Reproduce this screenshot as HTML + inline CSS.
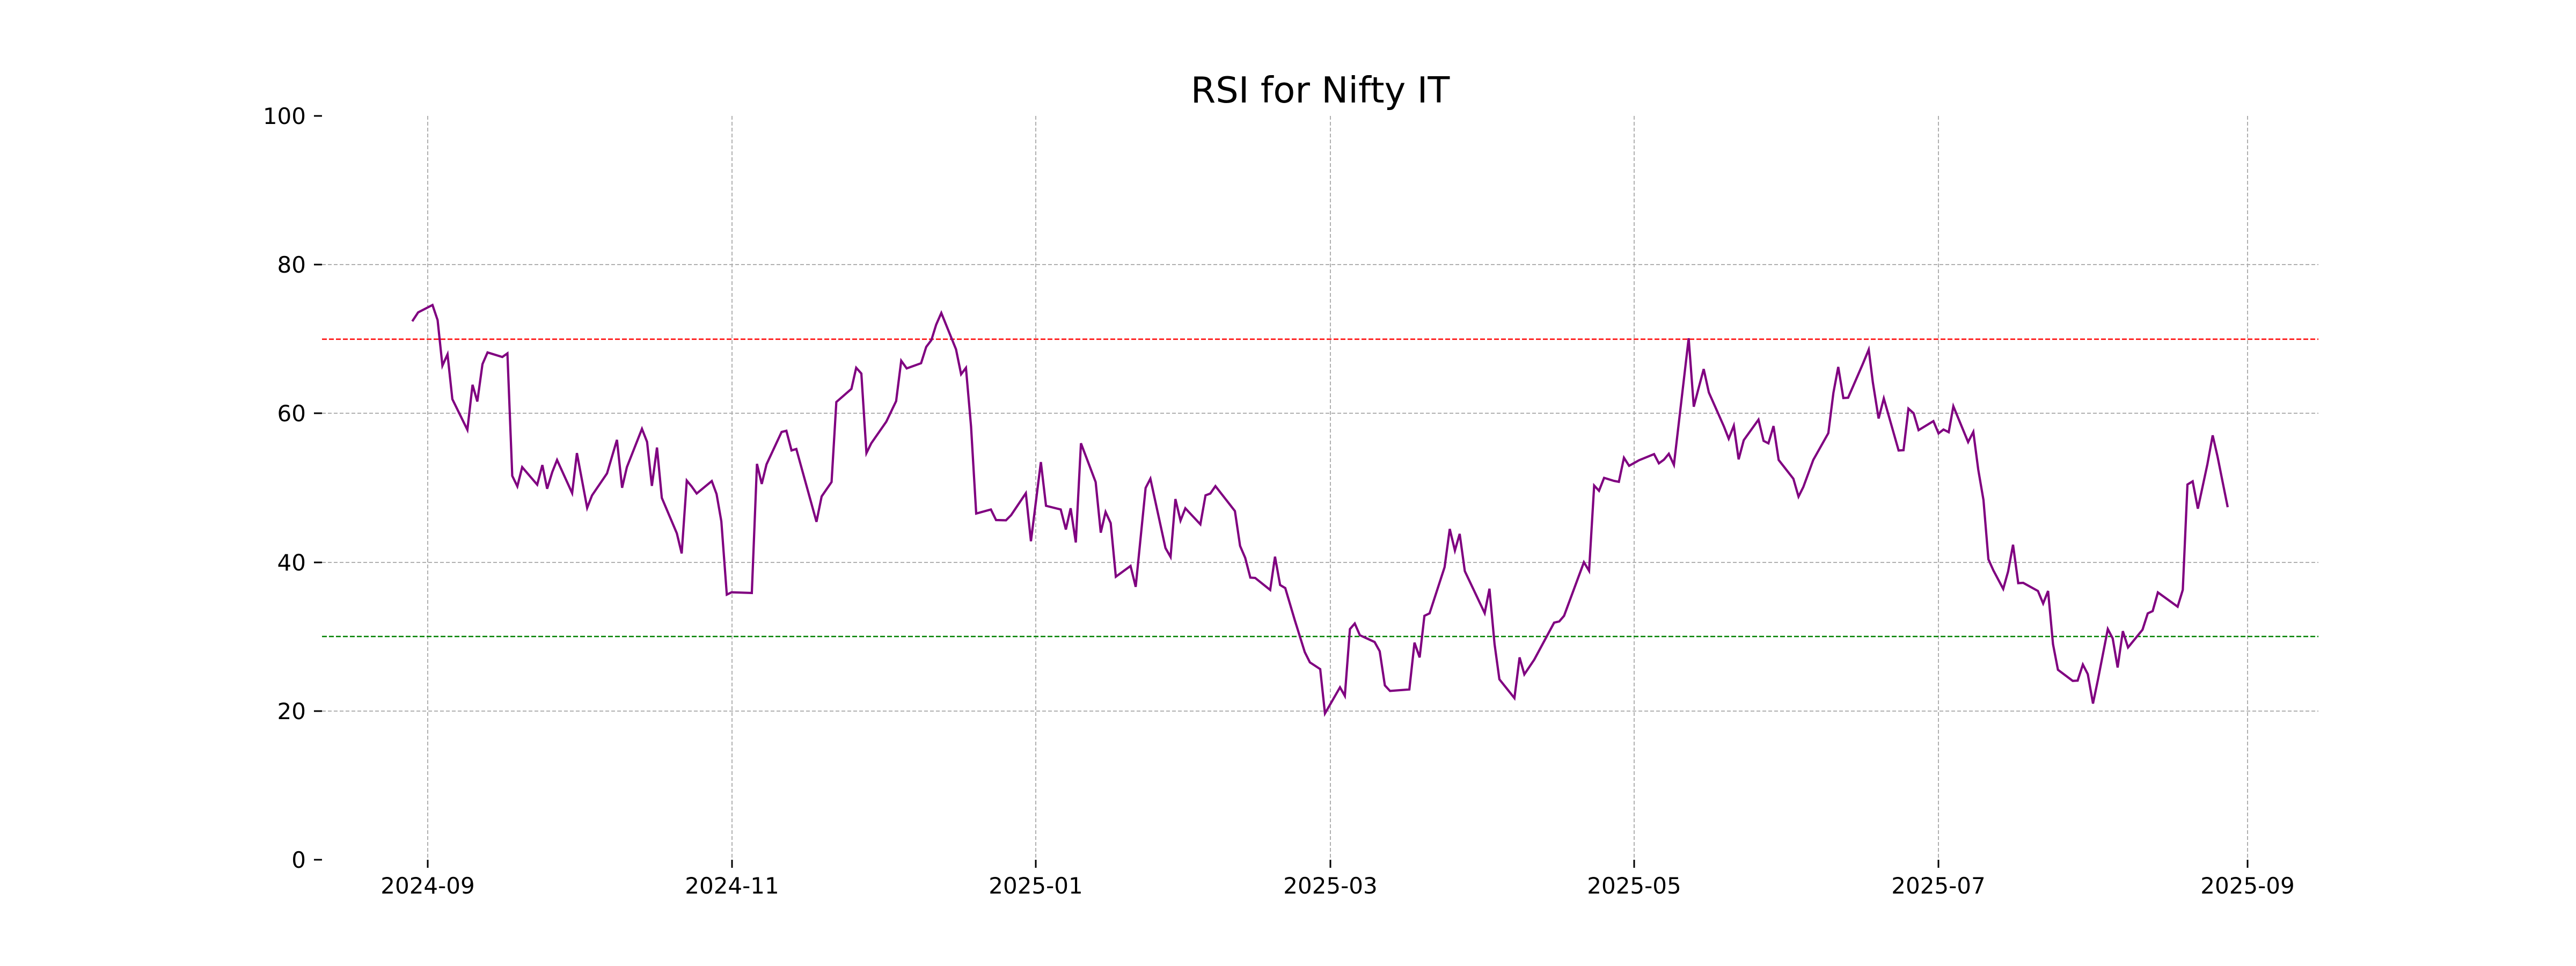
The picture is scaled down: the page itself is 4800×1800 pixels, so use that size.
<!DOCTYPE html>
<html><head><meta charset="utf-8"><style>
html,body{margin:0;padding:0;background:#fff;}
svg{display:block;}
text{font-family:"DejaVu Sans","Liberation Sans",sans-serif;fill:#000;}
</style></head><body>
<svg width="4800" height="1800" viewBox="0 0 4800 1800" xmlns="http://www.w3.org/2000/svg">
<rect width="4800" height="1800" fill="#fff"/>
<text x="2460" y="191" font-size="67" text-anchor="middle">RSI for Nifty IT</text>
<g stroke="#b0b0b0" stroke-width="2" stroke-dasharray="7,4">
<line x1="600" x2="4320" y1="1325" y2="1325"/>
<line x1="600" x2="4320" y1="1048" y2="1048"/>
<line x1="600" x2="4320" y1="770" y2="770"/>
<line x1="600" x2="4320" y1="493" y2="493"/>
<line x1="797" x2="797" y1="216" y2="1602"/>
<line x1="1364" x2="1364" y1="216" y2="1602"/>
<line x1="1930" x2="1930" y1="216" y2="1602"/>
<line x1="2479" x2="2479" y1="216" y2="1602"/>
<line x1="3045" x2="3045" y1="216" y2="1602"/>
<line x1="3612" x2="3612" y1="216" y2="1602"/>
<line x1="4188" x2="4188" y1="216" y2="1602"/>
</g>
<g stroke="#000" stroke-width="3">
<line x1="585" x2="600" y1="1602" y2="1602"/>
<line x1="585" x2="600" y1="1325" y2="1325"/>
<line x1="585" x2="600" y1="1048" y2="1048"/>
<line x1="585" x2="600" y1="770" y2="770"/>
<line x1="585" x2="600" y1="493" y2="493"/>
<line x1="585" x2="600" y1="216" y2="216"/>
<line x1="797" x2="797" y1="1602" y2="1617"/>
<line x1="1364" x2="1364" y1="1602" y2="1617"/>
<line x1="1930" x2="1930" y1="1602" y2="1617"/>
<line x1="2479" x2="2479" y1="1602" y2="1617"/>
<line x1="3045" x2="3045" y1="1602" y2="1617"/>
<line x1="3612" x2="3612" y1="1602" y2="1617"/>
<line x1="4188" x2="4188" y1="1602" y2="1617"/>
</g>
<g font-size="42" text-anchor="end">
<text x="570" y="1617">0</text>
<text x="570" y="1340">20</text>
<text x="570" y="1063">40</text>
<text x="570" y="785">60</text>
<text x="570" y="508">80</text>
<text x="570" y="231">100</text>
</g>
<g font-size="42" text-anchor="middle">
<text x="797" y="1665">2024-09</text>
<text x="1364" y="1665">2024-11</text>
<text x="1930" y="1665">2025-01</text>
<text x="2479" y="1665">2025-03</text>
<text x="3045" y="1665">2025-05</text>
<text x="3612" y="1665">2025-07</text>
<text x="4188" y="1665">2025-09</text>
</g>
<line x1="600" x2="4320" y1="632" y2="632" stroke="#ff0000" stroke-width="2.5" stroke-dasharray="9,4"/>
<line x1="600" x2="4320" y1="1186" y2="1186" stroke="#008000" stroke-width="2.5" stroke-dasharray="9,4"/>
<polyline fill="none" stroke="#800080" stroke-width="4.2" stroke-linejoin="miter" points="
768.2,598.7 779.1,582.1 805.9,568.3 815.4,596.4 824.4,681.3 833.9,660.3 842.9,743.8 870.9,800.9 880.5,717.0 889.4,748.2 899.0,678.6 908.5,656.7 936.0,665.2 945.5,658.5 954.5,886.6 964.0,906.3 973.0,870.5 1001.0,903.1 1010.6,866.5 1019.5,910.7 1029.1,879.5 1038.0,857.1 1066.1,918.8 1075.0,844.2 1094.1,946.4 1103.1,923.2 1131.1,882.1 1149.6,819.6 1159.2,908.9 1168.1,870.5 1196.2,799.1 1205.7,823.2 1214.7,905.4 1224.2,833.9 1233.2,927.7 1261.2,993.8 1270.2,1031.3 1279.7,895.5 1288.7,906.3 1298.2,919.6 1326.3,896.4 1335.2,920.5 1344.1,971.4 1354.3,1108.0 1363.3,1103.6 1400.9,1104.9 1410.5,864.3 1419.4,901.8 1428.3,865.2 1456.4,804.9 1465.3,802.7 1474.9,839.3 1483.8,836.6 1521.4,972.3 1531.0,925.0 1549.5,898.2 1558.4,749.1 1586.5,724.6 1595.4,685.3 1605.0,696.0 1614.5,844.2 1623.5,825.9 1651.5,785.7
1669.8,747.4 1679.3,672.2 1689.5,686.5 1716.3,676.8 1725.9,646.3 1735.5,633.7 1744.4,605.0 1754.0,583.2 1781.4,650.9 1790.9,697.4 1799.9,685.4 1809.4,794.4 1819.0,956.9 1846.4,949.4 1856.0,969.0 1874.5,969.5 1884.1,959.8 1911.5,919.0 1921.0,1008.5 1939.5,861.0 1949.1,942.5 1976.5,949.4 1986.1,986.7 1995.0,947.1 2004.6,1010.8 2014.2,826.0 2041.6,898.3 2051.1,992.5 2060.1,954.0 2069.6,974.7 2079.2,1074.6 2106.6,1054.5 2116.2,1093.5 2134.7,909.2 2143.6,892.0 2171.7,1021.2 2181.2,1037.8 2190.2,929.9 2199.7,970.1 2208.7,947.1 2236.7,977.0 2246.3,923.0 2255.2,919.6 2264.8,905.8 2301.1,952.3 2310.7,1017.2 2320.3,1039.6 2329.8,1076.3 2338.8,1076.9 2366.8,1099.3 2375.8,1037.3 2385.3,1090.1 2394.9,1095.8 2412.8,1156.1 2431.3,1215.2 2440.8,1234.2 2460.0,1246.8 2468.9,1329.4 2496.9,1280.7 2505.9,1296.7 2515.4,1172.2 2524.4,1161.8 2533.9,1183.6 2561.4,1196.3 2570.9,1213.5 2580.5,1277.2 2590.1,1287.5
2626.1,1284.7 2635.7,1197.5 2645.3,1225.0 2654.2,1147.5 2663.8,1142.9 2691.8,1056.8 2701.4,985.6 2711.0,1025.8 2719.9,994.8 2729.5,1064.3 2766.5,1142.4 2775.4,1097.0 2784.9,1200.3 2793.9,1265.8 2821.9,1300.8 2831.5,1225.0 2840.4,1256.6 2858.9,1229.0 2895.9,1160.2 2905.5,1157.9 2914.4,1147.5 2951.4,1047.6 2961.0,1063.7 2970.5,904.7 2979.5,914.5 2989.0,890.4 3007.5,896.1 3016.5,897.8 3026.0,853.0 3035.6,868.0 3054.1,857.6 3082.1,846.2 3091.1,863.4 3100.6,856.5 3109.6,845.6 3119.1,866.2 3146.6,630.3 3156.1,757.8 3165.7,721.0 3174.6,687.7 3184.2,731.3 3212.2,794.5 3221.2,817.5 3230.7,793.3 3239.7,855.9 3249.2,820.3 3276.7,781.9 3286.2,821.5 3295.2,826.1 3304.7,793.9 3314.3,857.1 3341.7,892.1 3351.3,925.4 3360.2,907.6 3378.7,857.1 3406.8,807.1 3416.3,731.9 3425.3,683.7 3434.8,741.7 3443.7,741.1
3470.9,678.5 3482.1,651.4 3489.8,712.6 3500.5,779.8 3510.2,742.4 3537.8,839.4 3546.9,838.9 3556.1,761.4 3565.8,770.1 3575.0,801.5 3602.6,784.7 3612.2,807.5 3621.4,800.4 3631.1,805.3 3639.8,757.0 3667.3,823.7 3677.0,804.7 3686.2,875.2 3695.9,931.6 3705.1,1042.1 3714.3,1062.7 3732.7,1097.4 3741.8,1064.9 3751.0,1015.0 3760.7,1086.6 3769.9,1086.0 3797.4,1101.2 3807.1,1124.5 3816.3,1101.2 3825.5,1200.4 3834.7,1248.1 3862.2,1268.7 3871.4,1268.2 3881.1,1238.3 3890.3,1256.2 3900.0,1311.0 3909.2,1266.5 3927.6,1172.2 3936.7,1189.6 3945.9,1243.8 3955.6,1176.0 3965.3,1206.4 3992.3,1173.3 4002.0,1143.0 4011.2,1138.6 4020.9,1103.9 4057.7,1130.5 4067.3,1099.1 4076.0,902.8 4085.7,896.9 4095.4,947.8 4113.3,864.4 4123.0,811.2 4132.1,850.8 4141.3,896.9 4151.0,945.1"/>
</svg>
</body></html>
